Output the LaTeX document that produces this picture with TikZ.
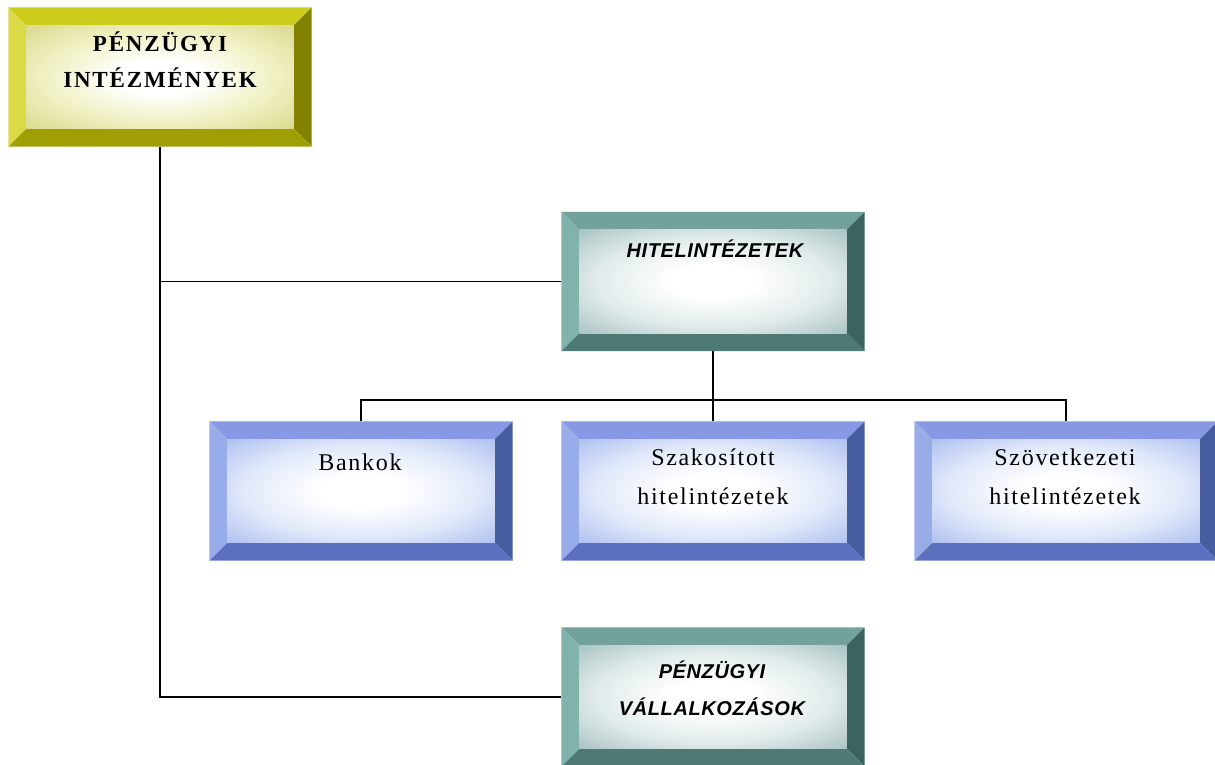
\documentclass[tikz,border=0pt]{standalone}
\usepackage{fontspec}
\setmainfont{Liberation Serif}
\newfontfamily\topfont[LetterSpace=8]{Liberation Serif}
\newfontfamily\bluefont[LetterSpace=7]{Liberation Serif}
\newfontfamily\tealfont[LetterSpace=3]{Liberation Sans}
\usetikzlibrary{calc}
\definecolor{ytop}{RGB}{205,205,30}
\definecolor{yleft}{RGB}{218,218,70}
\definecolor{yright}{RGB}{130,130,0}
\definecolor{ybot}{RGB}{160,158,5}
\definecolor{ttop}{RGB}{115,162,157}
\definecolor{tleft}{RGB}{130,178,172}
\definecolor{tright}{RGB}{60,100,95}
\definecolor{tbot}{RGB}{78,122,117}
\definecolor{btop}{RGB}{135,152,228}
\definecolor{bleft}{RGB}{152,172,232}
\definecolor{bright}{RGB}{72,92,162}
\definecolor{bbot}{RGB}{92,112,192}
\pgfdeclareradialshading{yshade}{\pgfpoint{0bp}{0bp}}{rgb(0bp)=(1,1,1); rgb(8bp)=(1,1,1); rgb(22bp)=(0.94,0.94,0.76); rgb(36bp)=(0.85,0.85,0.55); rgb(50bp)=(0.85,0.85,0.55)}
\pgfdeclareradialshading{tshade}{\pgfpoint{0bp}{0bp}}{rgb(0bp)=(1,1,1); rgb(8bp)=(1,1,1); rgb(22bp)=(0.88,0.92,0.92); rgb(36bp)=(0.66,0.76,0.76); rgb(50bp)=(0.66,0.76,0.76)}
\pgfdeclareradialshading{bshade}{\pgfpoint{0bp}{0bp}}{rgb(0bp)=(1,1,1); rgb(8bp)=(1,1,1); rgb(22bp)=(0.88,0.91,0.98); rgb(36bp)=(0.68,0.75,0.94); rgb(50bp)=(0.68,0.75,0.94)}
\tikzset{
  box/.style={minimum width=303pt,minimum height=139pt,inner sep=0pt,draw=none},
  conn/.style={draw=black,line width=1.2pt},
  toptext/.style={align=center,font={\topfont\bfseries\fontsize{23}{36}\selectfont}},
  bluetext/.style={align=center,font={\bluefont\fontsize{24}{39}\selectfont}},
  tealtext/.style={align=center,font={\tealfont\bfseries\itshape\fontsize{20}{37}\selectfont}},
}
\newcommand\bevbox[6]{%
  \fill[#2] (#1.north west) -- (#1.north east) -- ($(#1.north east)+(-18,18)$) -- ($(#1.north west)+(18,18)$) -- cycle;
  \fill[#3] (#1.north west) -- ($(#1.north west)+(18,18)$) -- ($(#1.south west)+(18,-18)$) -- (#1.south west) -- cycle;
  \fill[#4] (#1.north east) -- (#1.south east) -- ($(#1.south east)+(-18,-18)$) -- ($(#1.north east)+(-18,18)$) -- cycle;
  \fill[#5] (#1.south west) -- ($(#1.south west)+(18,-18)$) -- ($(#1.south east)+(-18,-18)$) -- (#1.south east) -- cycle;
  \shade[shading=#6] ($(#1.north west)+(18,18)$) rectangle ($(#1.south east)+(-18,-18)$);
}
\begin{document}
\begin{tikzpicture}[x=1pt,y=-1pt]
\useasboundingbox (0,0) rectangle (1215,765);
\node[box] (top) at (160,77) {};
\node[box] (hitel) at (713,281.5) {};
\node[box] (bank) at (361,491) {};
\node[box] (szak) at (713,491) {};
\node[box] (szov) at (1066,491) {};
\node[box] (vall) at (713,697) {};
\coordinate (bus) at (713,400);
% connectors
\draw[conn] (top.south) -- (top.south |- vall.west) -- (vall.west);
\draw[conn] (top.south |- hitel.west) -- (hitel.west);
\draw[conn] (hitel.south) -- (bus);
\draw[conn] (bank.north) |- (bus) -| (szov.north);
\draw[conn] (bus) -- (szak.north);
% boxes
\bevbox{top}{ytop}{yleft}{yright}{ybot}{yshade}
\bevbox{hitel}{ttop}{tleft}{tright}{tbot}{tshade}
\bevbox{bank}{btop}{bleft}{bright}{bbot}{bshade}
\bevbox{szak}{btop}{bleft}{bright}{bbot}{bshade}
\bevbox{szov}{btop}{bleft}{bright}{bbot}{bshade}
\bevbox{vall}{ttop}{tleft}{tright}{tbot}{tshade}
% texts
\node[toptext] (top-t) at (160,60) {PÉNZÜGYI\\INTÉZMÉNYEK};
\node[tealtext] (hitel-t) at (715,249) {HITELINTÉZETEK};
\node[bluetext] (bank-t) at (360,462) {Bankok};
\node[bluetext] (szak-t) at (713,477) {Szakosított\\hitelintézetek};
\node[bluetext] (szov-t) at (1065,477) {Szövetkezeti\\hitelintézetek};
\node[tealtext] (vall-t) at (712,688) {PÉNZÜGYI\\VÁLLALKOZÁSOK};
\end{tikzpicture}
\end{document}
